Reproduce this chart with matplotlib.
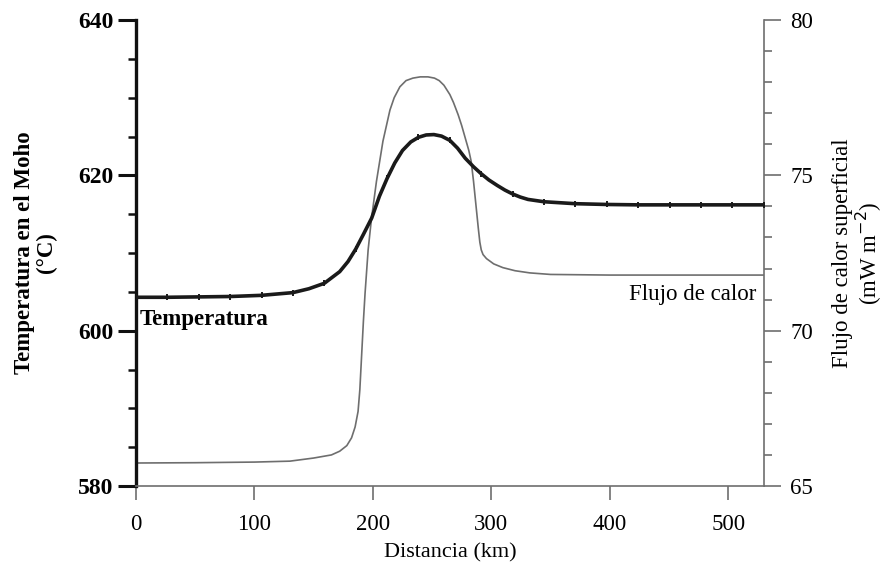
import matplotlib
matplotlib.use("Agg")
import matplotlib.pyplot as plt
from matplotlib.ticker import MultipleLocator

# Moho temperature, markers every 26.5 km
temp_km = [0, 26.5, 53, 79.5, 106, 132.5, 146, 159, 172, 179, 185.5, 192, 199, 205.5,
           212, 218.5, 225, 232, 238.5, 245, 251.5, 258, 265, 271.5, 278, 285,
           291.5, 298, 305, 311.5, 318, 324.5, 331, 344.5, 371, 397.5, 424, 450.5, 477,
           503.5, 530]
temp_c = [604.3, 604.3, 604.35, 604.4, 604.55, 604.9, 605.4, 606.1, 607.6, 608.9, 610.5,
          612.4, 614.5, 617.3, 619.6, 621.6, 623.2, 624.3, 624.9, 625.2, 625.25,
          625.05, 624.5, 623.5, 622.2, 621.1, 620.2, 619.4, 618.7, 618.1, 617.6, 617.2,
          616.9, 616.6, 616.35, 616.25, 616.2, 616.2, 616.2, 616.2, 616.2]

# surface heat flow (mW m-2)
flux_km = [0, 50, 100, 130, 150, 165, 172, 178, 182, 185, 187.5, 189, 190.5, 192,
           193.4, 196, 198.8, 203, 208.5, 214.4, 218, 222.8, 228, 233.8, 240, 246.5,
           252, 256, 260, 265, 268, 272, 275, 278, 281, 283, 285, 287.4, 289, 290.3,
           291.5, 293, 295.9, 302, 309.7, 320, 332.5, 350, 400, 450, 530]
flux_q = [65.74, 65.75, 65.77, 65.8, 65.9, 66.0, 66.12, 66.3, 66.55, 66.9, 67.4,
          68.1, 69.2, 70.3, 71.2, 72.6, 73.6, 74.8, 76.1, 77.1, 77.5, 77.85, 78.05,
          78.13, 78.17, 78.17, 78.13, 78.05, 77.9, 77.6, 77.35, 76.95, 76.6, 76.2,
          75.8, 75.45, 74.8, 73.9, 73.3, 72.85, 72.6, 72.45, 72.32, 72.15, 72.03,
          71.93, 71.86, 71.81, 71.79, 71.79, 71.79]

x_ticks = [0, 100, 200, 300, 400, 500]

plt.rcParams['font.family'] = ['Liberation Serif', 'DejaVu Serif']
fs = 16.5
grey = '#6e6e6e'

fig = plt.figure(figsize=(8.91, 5.64), dpi=100)
ax = fig.add_axes([0.1526, 0.1383, 0.7046, 0.8262])
ax2 = ax.twinx()

# heat flow on the right axis, drawn below
ax2.plot(flux_km, flux_q, color=grey, lw=1.2)
ax2.set_ylim(65, 80)
ax2.yaxis.set_major_locator(MultipleLocator(5))
ax2.yaxis.set_minor_locator(MultipleLocator(1))

# temperature on the left axis
mark_idx = [i for i, k in enumerate(temp_km) if (k / 26.5) % 1 == 0]
ax.plot(temp_km, temp_c, color='#1a1a1a', lw=2.6, marker='|', ms=5, mew=1.4,
        markevery=mark_idx, zorder=5)
ax.set_zorder(ax2.get_zorder() + 1)
ax.patch.set_visible(False)

ax.set_xlim(0, 530)
ax.set_ylim(580, 640)
ax.set_xticks(x_ticks)
ax.yaxis.set_major_locator(MultipleLocator(20))
ax.yaxis.set_minor_locator(MultipleLocator(5))

for a in (ax, ax2):
    a.spines['top'].set_visible(False)
ax.spines['right'].set_visible(False)
ax2.spines['left'].set_visible(False)
ax2.spines['bottom'].set_visible(False)
ax.spines['left'].set_linewidth(2.4)
ax.spines['left'].set_color('#111111')
ax.spines['bottom'].set_linewidth(1.2)
ax.spines['bottom'].set_color(grey)
ax2.spines['right'].set_linewidth(1.2)
ax2.spines['right'].set_color(grey)

ax.tick_params(axis='x', direction='out', length=10, width=1.2, color=grey,
               labelsize=fs, pad=10)
ax.tick_params(axis='y', which='major', direction='out', length=13, width=2.2,
               color='#111111', labelsize=17, pad=3)
ax.tick_params(axis='y', which='minor', direction='out', length=6, width=1.8,
               color='#111111')
for lab in ax.get_yticklabels():
    lab.set_fontweight('bold')
ax2.tick_params(axis='y', which='major', direction='out', length=12, width=1.2,
                color=grey, labelsize=fs, pad=7)
ax2.tick_params(axis='y', which='minor', direction='out', length=6, width=1.2,
                color=grey)

ax.set_xlabel('Distancia (km)', fontsize=16, labelpad=6)
ax.set_ylabel('Temperatura en el Moho\n(°C)', fontsize=fs, fontweight='bold',
              linespacing=1.05)
ax.yaxis.set_label_coords(-0.126, 0.5)
ax2.set_ylabel('Flujo de calor superficial\n(mW m$^{-2}$)', fontsize=fs,
               linespacing=1.05, rotation=90)
ax2.yaxis.set_label_coords(1.108, 0.5)

ax.text(3, 601.4, 'Temperatura', fontsize=fs, fontweight='bold', va='center', ha='left')
ax2.text(524, 71.15, 'Flujo de calor', fontsize=fs, va='center', ha='right')

fig.savefig('out.png', dpi=100)
